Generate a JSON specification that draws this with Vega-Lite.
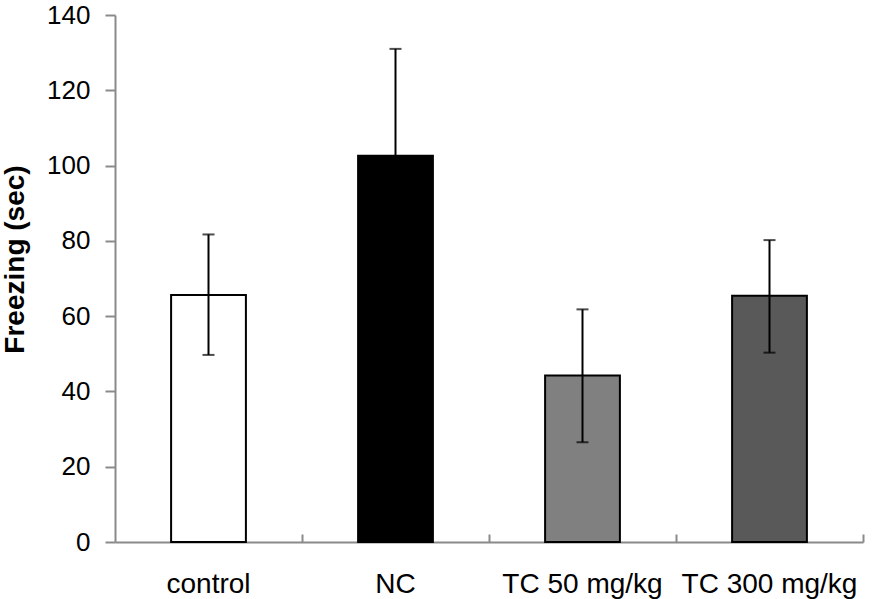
{
  "$schema": "https://vega.github.io/schema/vega-lite/v6.json",
  "width": 748,
  "height": 527,
  "autosize": {"type": "none"},
  "padding": {"left": 115, "top": 15, "right": 26, "bottom": 57},
  "background": "white",
  "config": {"view": {"stroke": null}, "font": "Liberation Sans"},
  "data": {"values": [
    {"group": "control", "mean": 65.6, "lo": 49.7, "hi": 81.7, "color": "white"},
    {"group": "NC", "mean": 102.6, "lo": 74.4, "hi": 131.0, "color": "black"},
    {"group": "TC 50 mg/kg", "mean": 44.2, "lo": 26.5, "hi": 61.8, "color": "gray"},
    {"group": "TC 300 mg/kg", "mean": 65.4, "lo": 50.3, "hi": 80.2, "color": "dark"}
  ]},
  "resolve": {"scale": {"x": "independent"}, "axis": {"x": "independent"}},
  "layer": [
    {
      "layer": [
        {
          "mark": {"type": "bar", "stroke": "black", "strokeWidth": 2},
          "encoding": {
            "y": {
              "field": "mean", "type": "quantitative",
              "scale": {"domain": [0, 140]},
              "axis": {
                "title": "Freezing (sec)", "titleFontSize": 28, "titleFontWeight": "bold",
                "titleColor": "black", "titleFont": "Liberation Sans",
                "titleX": -100, "titleY": 244, "titleAngle": -90, "titleAlign": "center",
                "titleBaseline": "middle",
                "values": [0, 20, 40, 60, 80, 100, 120, 140], "grid": false,
                "labelFontSize": 26, "labelColor": "black", "labelPadding": 15,
                "labelFont": "Liberation Sans",
                "domainColor": "#8a8a8a", "domainWidth": 2, "tickColor": "#8a8a8a",
                "tickWidth": 2, "tickSize": 10
              }
            },
            "fill": {
              "field": "color", "type": "nominal", "legend": null,
              "scale": {"domain": ["white", "black", "gray", "dark"], "range": ["#ffffff", "#000000", "#808080", "#595959"]}
            }
          }
        },
        {
          "mark": {"type": "rule", "color": "black", "strokeWidth": 2},
          "encoding": {
            "y": {"field": "lo", "type": "quantitative"},
            "y2": {"field": "hi"}
          }
        },
        {
          "mark": {"type": "tick", "color": "black", "thickness": 2, "size": 12},
          "encoding": {"y": {"field": "hi", "type": "quantitative"}}
        },
        {
          "mark": {"type": "tick", "color": "black", "thickness": 2, "size": 12},
          "encoding": {"y": {"field": "lo", "type": "quantitative"}}
        }
      ],
      "encoding": {
        "x": {
          "field": "group", "type": "nominal", "sort": null,
          "scale": {"paddingInner": 0.6, "paddingOuter": 0.3},
          "axis": {
            "title": null, "orient": "bottom", "labelAngle": 0, "labelFontSize": 28, "labelColor": "black",
            "labelPadding": 50, "labelLimit": 0, "labelOverlap": false,
            "domainColor": "#8a8a8a", "domainWidth": 2, "ticks": false,
            "labelFont": "Liberation Sans", "labelBaseline": "alphabetic"
          }
        }
      }
    },
    {
      "mark": {"type": "point", "opacity": 0},
      "encoding": {
        "x": {
          "datum": 0, "type": "quantitative",
          "scale": {"domain": [0, 4], "nice": false, "zero": false},
          "axis": {
            "orient": "bottom", "title": null, "labels": false, "domain": false, "grid": false,
            "values": [1, 2, 3, 4], "ticks": true, "tickSize": -8, "tickWidth": 2,
            "tickColor": "#8a8a8a"
          }
        },
        "y": {"datum": 0, "type": "quantitative"}
      }
    }
  ]
}
